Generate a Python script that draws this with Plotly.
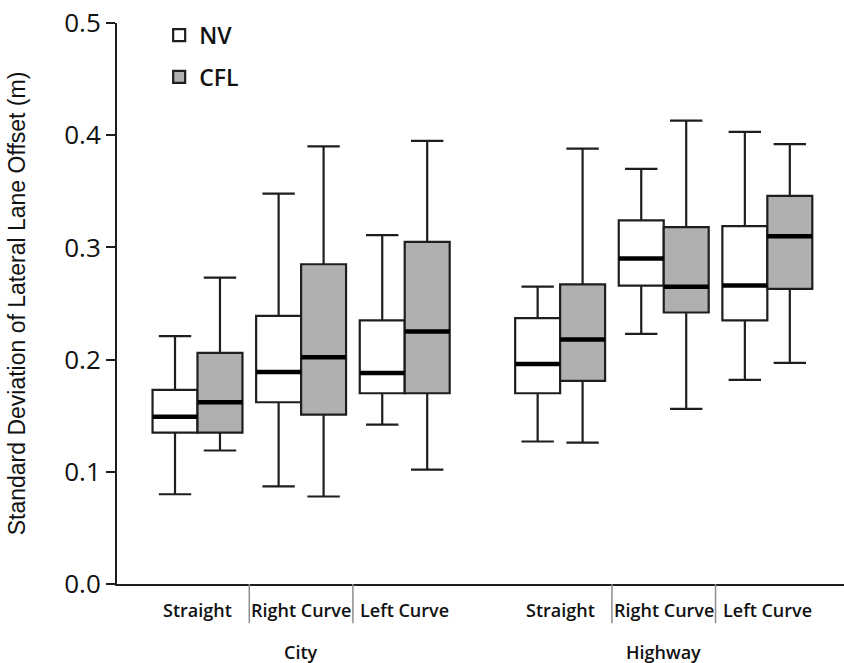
import plotly.graph_objects as go

# ---- data ----
groups = ["City", "Highway"]
conditions = ["Straight", "Right Curve", "Left Curve"]
positions = [0, 1, 2, 3.5, 4.5, 5.5]  # City x3, Highway x3

nv_lower = [0.080, 0.087, 0.142, 0.127, 0.223, 0.182]
nv_q1 = [0.135, 0.162, 0.170, 0.170, 0.266, 0.235]
nv_median = [0.149, 0.189, 0.188, 0.196, 0.290, 0.266]
nv_q3 = [0.173, 0.239, 0.235, 0.237, 0.324, 0.319]
nv_upper = [0.221, 0.348, 0.311, 0.265, 0.370, 0.403]

cfl_lower = [0.119, 0.078, 0.102, 0.126, 0.156, 0.197]
cfl_q1 = [0.135, 0.151, 0.170, 0.181, 0.242, 0.263]
cfl_median = [0.162, 0.202, 0.225, 0.218, 0.265, 0.310]
cfl_q3 = [0.206, 0.285, 0.305, 0.267, 0.318, 0.346]
cfl_upper = [0.273, 0.390, 0.395, 0.388, 0.413, 0.392]

y_ticks = [0.0, 0.1, 0.2, 0.3, 0.4, 0.5]

# ---- styling ----
BOX_W = 0.434
EDGE = "#1e1e1e"
series = [
    dict(name="NV", off=-BOX_W / 2, fill="#ffffff",
         lo=nv_lower, q1=nv_q1, med=nv_median, q3=nv_q3, up=nv_upper),
    dict(name="CFL", off=BOX_W / 2, fill="#b0b0b0",
         lo=cfl_lower, q1=cfl_q1, med=cfl_median, q3=cfl_q3, up=cfl_upper),
]

fig = go.Figure()
for s in series:
    xs = [p + s["off"] for p in positions]
    fig.add_trace(go.Box(
        name=s["name"], x=xs,
        lowerfence=s["lo"], q1=s["q1"], median=s["med"], q3=s["q3"], upperfence=s["up"],
        width=BOX_W, whiskerwidth=0.72, fillcolor=s["fill"],
        line=dict(color=EDGE, width=2.2), boxpoints=False,
        legendgroup=s["name"], showlegend=True,
    ))

# thicker median lines
for s in series:
    mx, my = [], []
    for p, m in zip(positions, s["med"]):
        c = p + s["off"]
        mx += [c - BOX_W / 2, c + BOX_W / 2, None]
        my += [m, m, None]
    fig.add_trace(go.Scatter(x=mx, y=my, mode="lines",
                             line=dict(color="#000000", width=4.5),
                             showlegend=False, hoverinfo="skip"))

# separators between condition labels within each group
shapes = []
for i in range(len(positions) - 1):
    if positions[i + 1] - positions[i] == 1:
        xm = (positions[i] + positions[i + 1]) / 2
        shapes.append(dict(type="line", xref="x", yref="paper",
                           x0=xm, x1=xm, y0=0, y1=-0.07,
                           line=dict(color="#8c8c8c", width=1.5)))

LABEL_FONT = dict(family="Open Sans", size=18, color="#111111", weight=600)
annotations = []
for i, p in enumerate(positions):
    annotations.append(dict(x=p, y=-0.046, xref="x", yref="paper",
                            text=conditions[i % 3], showarrow=False,
                            yanchor="middle", xanchor="center", font=LABEL_FONT))
for g, gi in zip(groups, [0, 3]):
    center = (positions[gi] + positions[gi + 2]) / 2
    annotations.append(dict(x=center, y=-0.121, xref="x", yref="paper",
                            text=g, showarrow=False,
                            yanchor="middle", xanchor="center", font=LABEL_FONT))

fig.update_layout(
    width=844, height=663,
    margin=dict(l=117, r=0, t=23, b=79, autoexpand=False),
    paper_bgcolor="white", plot_bgcolor="white",
    boxmode="overlay",
    shapes=shapes, annotations=annotations,
    legend=dict(x=0.058, y=0.9795, xanchor="left", yanchor="top", yref="container",
                font=dict(family="Open Sans", size=23, color="#111111", weight=600),
                tracegroupgap=9, bgcolor="rgba(0,0,0,0)"),
    xaxis=dict(range=[-0.777, 6.24], showline=True, linecolor=EDGE, linewidth=2,
               showgrid=False, zeroline=False, showticklabels=False, ticks=""),
    yaxis=dict(range=[0, 0.5], tickvals=y_ticks, tickformat=".1f",
               ticklabeloverflow="allow",
               showline=True, linecolor=EDGE, linewidth=2,
               ticks="outside", ticklen=9, tickwidth=2, tickcolor=EDGE,
               showgrid=False, zeroline=False,
               tickfont=dict(family="Open Sans", size=26, color="#111111"),
               title=dict(text="Standard Deviation of Lateral Lane Offset (m)",
                          font=dict(family="Liberation Sans", size=23, color="#111111"),
                          standoff=32)),
)

fig.write_html("out.html", config={"displayModeBar": False},
               post_script="document.body.style.margin='0';")
